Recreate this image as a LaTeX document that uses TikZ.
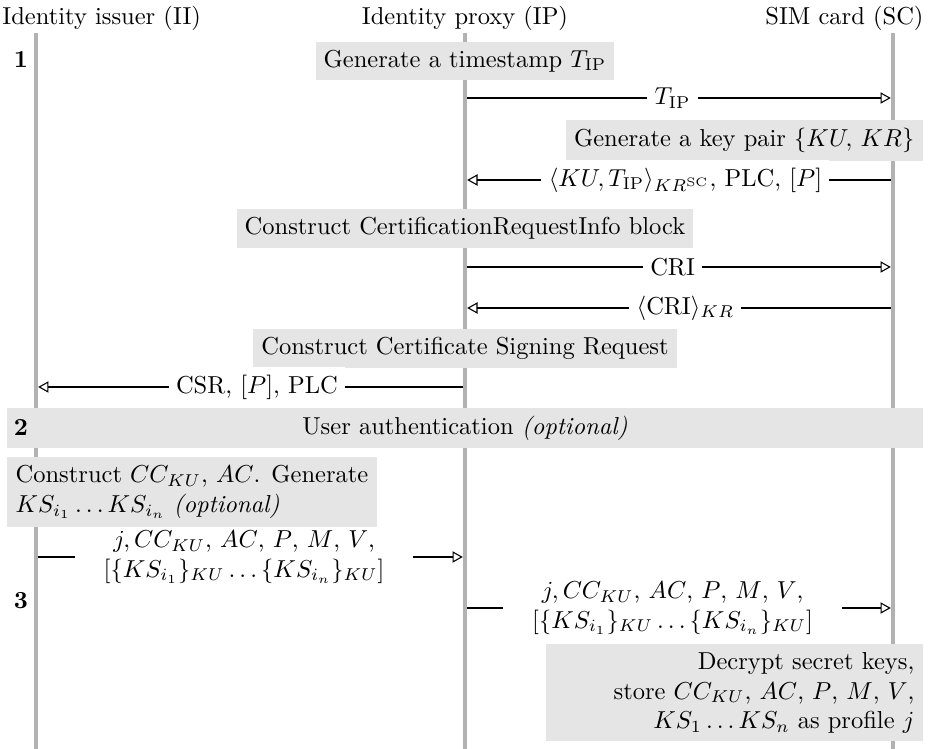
\documentclass[tikz,border=0pt]{standalone}
\usepackage{fontspec}
\usetikzlibrary{arrows.meta}
\begin{document}
\begin{tikzpicture}[x=0.408pt,y=-0.408pt,
  lifeline/.style={draw=gray!60, line width=1.8pt},
  header/.style={inner sep=0pt},
  action/.style={fill=gray!20, inner sep=3.33pt},
  stepno/.style={font=\bfseries, inner sep=0pt},
  msg/.style={draw=black, line width=1pt,
    -{Triangle[open,length=4.2pt,width=4.6pt,line width=0.45pt]},
    shorten <=0.9pt, shorten >=0.9pt},
  lbl/.style={fill=white, inner sep=3pt, pos=0.485},
  lbltwo/.style={fill=white, inner sep=0pt, minimum width=138pt,
    align=center, pos=0.485}]
\useasboundingbox (0,0) rectangle (933,749);

% column headers
\node[header, anchor=base west] (hII) at (2,25) {Identity issuer (II)};
\node[header, anchor=base] (hIP) at (465,25) {Identity proxy (IP)};
\node[header, anchor=base east] (hSC) at (924,25) {SIM card (SC)};

% lifelines
\coordinate (iiT) at (36,33);  \coordinate (iiB) at (36,749);
\coordinate (ipT) at (465,33); \coordinate (ipB) at (465,749);
\coordinate (scT) at (893,33); \coordinate (scB) at (893,749);
\draw[lifeline] (iiT) -- (iiB);
\draw[lifeline] (ipT) -- (ipB);
\draw[lifeline] (scT) -- (scB);

% phase 1
\node[stepno] (s1) at (21,59) {1};
\node[action] (ts) at (465,61) {Generate a timestamp $T_{\mathrm{IP}}$};
\coordinate (ip1) at (465,98);  \coordinate (sc1) at (893,98);
\draw[msg] (ip1) -- node[lbl] (m1) {$T_{\mathrm{IP}}$} (sc1);

\node[action, anchor=east] (kp) at (923,140.5) {Generate a key pair $\{KU,\, KR\}$};
\coordinate (sc2) at (893,180);  \coordinate (ip2) at (465,180);
\draw[msg] (sc2) -- node[lbl] (m2)
  {$\langle KU, T_{\mathrm{IP}}\rangle_{KR^{\mathrm{SC}}}$, PLC, $[P]$} (ip2);

\node[action] (cri) at (465,228.5) {Construct CertificationRequestInfo block};
\coordinate (ip3) at (465,267);  \coordinate (sc3) at (893,267);
\draw[msg] (ip3) -- node[lbl] (m3) {CRI} (sc3);

\coordinate (sc4) at (893,308);  \coordinate (ip4) at (465,308);
\draw[msg] (sc4) -- node[lbl] (m4) {$\langle\mathrm{CRI}\rangle_{KR}$} (ip4);

\node[action] (csr) at (465,348.5) {Construct Certificate Signing Request};
\coordinate (ip5) at (465,387);  \coordinate (ii5) at (36,387);
\draw[msg] (ip5) -- node[lbl] (m5) {CSR, $[P]$, PLC} (ii5);

% phase 2
\node[action, minimum width=373.7pt] (auth) at (465,428)
  {User authentication \textit{(optional)}};
\node[stepno] (s2) at (21,427) {2};

% phase 3
\node[action, anchor=north west, align=left] (cc) at (7,457)
  {Construct $CC_{KU}$, $AC$. Generate\\ $KS_{i_1}\ldots KS_{i_n}$ \textit{(optional)}};
\coordinate (ii6) at (36,557);  \coordinate (ip6) at (465,557);
\draw[msg] (ii6) -- node[lbltwo] (m6)
  {$j, CC_{KU}$, $AC$, $P$, $M$, $V$,\\
   $[\{KS_{i_1}\}_{KU}\ldots\{KS_{i_n}\}_{KU}]$} (ip6);

\node[stepno] (s3) at (21,601) {3};
\coordinate (ip7) at (465,608);  \coordinate (sc7) at (893,608);
\draw[msg] (ip7) -- node[lbltwo] (m7)
  {$j, CC_{KU}$, $AC$, $P$, $M$, $V$,\\
   $[\{KS_{i_1}\}_{KU}\ldots\{KS_{i_n}\}_{KU}]$} (sc7);

\node[action, anchor=north east, align=right, text width=147.1pt] (dec) at (923,644)
  {Decrypt secret keys,\\ store $CC_{KU}$, $AC$, $P$, $M$, $V$,\\
   $KS_1\ldots KS_n$ as profile $j$};
\end{tikzpicture}
\end{document}
